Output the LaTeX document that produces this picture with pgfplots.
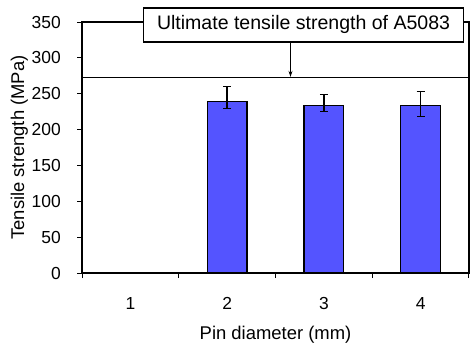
\documentclass[border=0pt]{standalone}
\usepackage{pgfplots}
\pgfplotsset{compat=1.18}
\usepackage{fontspec}
\setmainfont{Liberation Sans}
\usetikzlibrary{arrows.meta}
\definecolor{barblue}{RGB}{84,84,255}
\begin{document}
\begin{tikzpicture}
\useasboundingbox (0,0) rectangle (470bp,344bp);
\begin{axis}[
  at={(82bp,71bp)}, anchor=south west,
  scale only axis, width=387bp, height=251bp,
  xmin=0.5, xmax=4.5, ymin=0, ymax=350,
  xtick={1,2,3,4}, major x tick style={draw=none},
  minor xtick={0.5,1.5,2.5,3.5,4.5},
  ytick={0,50,100,150,200,250,300,350},
  tick align=outside, major tick length=5bp, minor tick length=5bp,
  tick style={black, line width=1bp},
  xtick pos=bottom, ytick pos=left,
  axis line style={black, line width=1.2bp},
  /pgf/number format/assume math mode=true,
  ticklabel style={font=\fontsize{17.5}{17.5}\selectfont, inner sep=0pt},
  yticklabel style={anchor=east, xshift=-16bp},
  xticklabel style={anchor=north, yshift=-19bp},
  xlabel={Pin diameter (mm)},
  ylabel={Tensile strength (MPa)},
  label style={font=\fontsize{18.5}{18.5}\selectfont, inner sep=0pt},
  xlabel style={at={(axis description cs:0.5,-0.212)}, anchor=north},
  ylabel style={at={(axis description cs:-0.162,0.5)}, anchor=center},
  clip=false,
]
\addplot[ybar, bar width=0.41, fill=barblue, draw=black, line width=1.1bp,
  error bars/.cd, y dir=both, y explicit,
  error bar style={black, line width=1.3bp},
  error mark options={rotate=90, mark size=4bp, black, line width=1.3bp}]
  table[x=x, y=y, y error plus=ep, y error minus=em] {
  x y ep em
  2 239 21 10
  3 233 16 8
  4 234 19 16
};
\addplot[black, line width=0.9bp, no marks] coordinates {(0.5,273) (4.5,273)};
\coordinate (boxc) at (axis cs:2.79,346);
\coordinate (arrtop) at (axis cs:2.655,322);
\coordinate (arrbot) at (axis cs:2.655,273.5);
\end{axis}
\draw[black, line width=1bp, -{Stealth[length=6bp, width=4bp]}] (arrtop) -- (arrbot);
\node[draw=black, fill=white, line width=1.3bp, minimum width=320bp, minimum height=34bp,
  inner sep=0pt, font=\fontsize{19.6}{19.6}\selectfont] at (boxc) {Ultimate tensile strength of A5083};
\end{tikzpicture}
\end{document}
